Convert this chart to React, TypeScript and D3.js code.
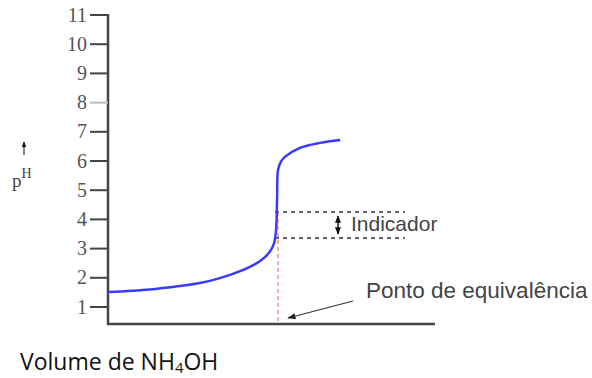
import * as d3 from "d3";
import React from "react";

// pH tick labels on the y axis
const phTicks = [1, 2, 3, 4, 5, 6, 7, 8, 9, 10, 11];
// titration curve: volume of NH4OH (arbitrary units) vs pH
const volume = [0, 12.8, 22, 28.1, 34.2, 40.4, 45, 48, 49.8, 50.8, 51.4, 51.7, 52.0, 52.9, 54.1, 58.7, 64.8, 71];
const ph = [1.51, 1.6, 1.72, 1.82, 1.99, 2.23, 2.47, 2.71, 2.95, 3.19, 3.64, 4.66, 5.69, 5.98, 6.14, 6.45, 6.62, 6.72];
// indicator turning range and equivalence point
const indicatorRange = [3.36, 4.25];
const equivalenceVolume = 52;

const W = 592, H = 378;

export default function App() {
  const x = d3.scaleLinear().domain([0, 100]).range([108, 435]);
  const y = d3.scaleLinear().domain([1, 11]).range([307, 15]);
  const axisY0 = 324;

  const pts = volume.map((v, i) => [v, ph[i]] as [number, number]);
  const line = d3.line<[number, number]>()
    .x(d => x(d[0]))
    .y(d => y(d[1]))
    .curve(d3.curveCatmullRom.alpha(0.5));

  const dashX0 = x(equivalenceVolume) - 3;
  const dashX1 = 405;
  const arrowX = 338;
  const [lo, hi] = indicatorRange;

  return (
    <svg width={W} height={H} style={{ position: "absolute", left: 0, top: 0 }}>
      <defs>
        <marker id="ah" viewBox="0 0 10 10" refX="9" refY="5" markerWidth="7" markerHeight="7" orient="auto-start-reverse">
          <path d="M0,1.5 L10,5 L0,8.5 z" fill="#222" />
        </marker>
        <marker id="ah2" viewBox="0 0 10 10" refX="9" refY="5" markerWidth="5" markerHeight="5" orient="auto-start-reverse">
          <path d="M0,1 L10,5 L0,9 z" fill="#111" />
        </marker>
      </defs>
      {/* y axis with ticks */}
      <line x1={108} x2={108} y1={y(11) - 1} y2={axisY0 + 1} stroke="#444" strokeWidth={2.5} />
      {phTicks.map(t => (
        <g key={t}>
          <line x1={90} x2={108} y1={y(t)} y2={y(t)} stroke={t === 8 ? "#bbb" : "#444"} strokeWidth={2} />
          <text x={87} y={y(t)} dy="0.33em" textAnchor="end" fontFamily="Liberation Serif, serif" fontSize={20} fill="#555">{t}</text>
        </g>
      ))}
      {/* x axis */}
      <line x1={107} x2={435} y1={axisY0} y2={axisY0} stroke="#444" strokeWidth={2.5} />

      {/* pH label */}
      <line x1={24} x2={24} y1={155} y2={142} stroke="#333" strokeWidth={1.2} markerEnd="url(#ah2)" />
      <text x={12} y={187} fontFamily="Liberation Serif, serif" fontSize={19} fill="#444">
        p<tspan dy="-9" fontSize={14}>H</tspan>
      </text>

      {/* indicator range */}
      <line x1={dashX0} x2={dashX1} y1={y(hi)} y2={y(hi)} stroke="#333" strokeWidth={1.5} strokeDasharray="4,4" />
      <line x1={dashX0} x2={dashX1} y1={y(lo)} y2={y(lo)} stroke="#333" strokeWidth={1.5} strokeDasharray="4,4" />
      <line x1={arrowX} x2={arrowX} y1={y(hi) + 4} y2={y(lo) - 4} stroke="#111" strokeWidth={1.5}
        markerStart="url(#ah2)" markerEnd="url(#ah2)" />
      <text x={351} y={231} fontFamily="Liberation Sans, Arial, sans-serif" fontSize={21} fill="#444">Indicador</text>

      {/* equivalence point */}
      <line x1={x(equivalenceVolume)} x2={x(equivalenceVolume)} y1={y(hi)} y2={axisY0 - 1}
        stroke="#ff7070" strokeWidth={1.2} strokeDasharray="4,3" />
      <line x1={353} x2={288} y1={301} y2={318} stroke="#333" strokeWidth={1.2} markerEnd="url(#ah)" />
      <text x={366} y={298} fontFamily="Liberation Sans, Arial, sans-serif" fontSize={22.5} fill="#444">Ponto de equivalência</text>

      {/* titration curve */}
      <path d={line(pts) ?? ""} fill="none" stroke="#3a3aff" strokeWidth={2.5} />

      {/* x axis title */}
      <text x={20} y={370} fontFamily="Open Sans, sans-serif" fontSize={23} fill="#111">
        Volume de NH<tspan dy="3" fontSize={15}>4</tspan><tspan dy="-3">OH</tspan>
      </text>
    </svg>
  );
}
